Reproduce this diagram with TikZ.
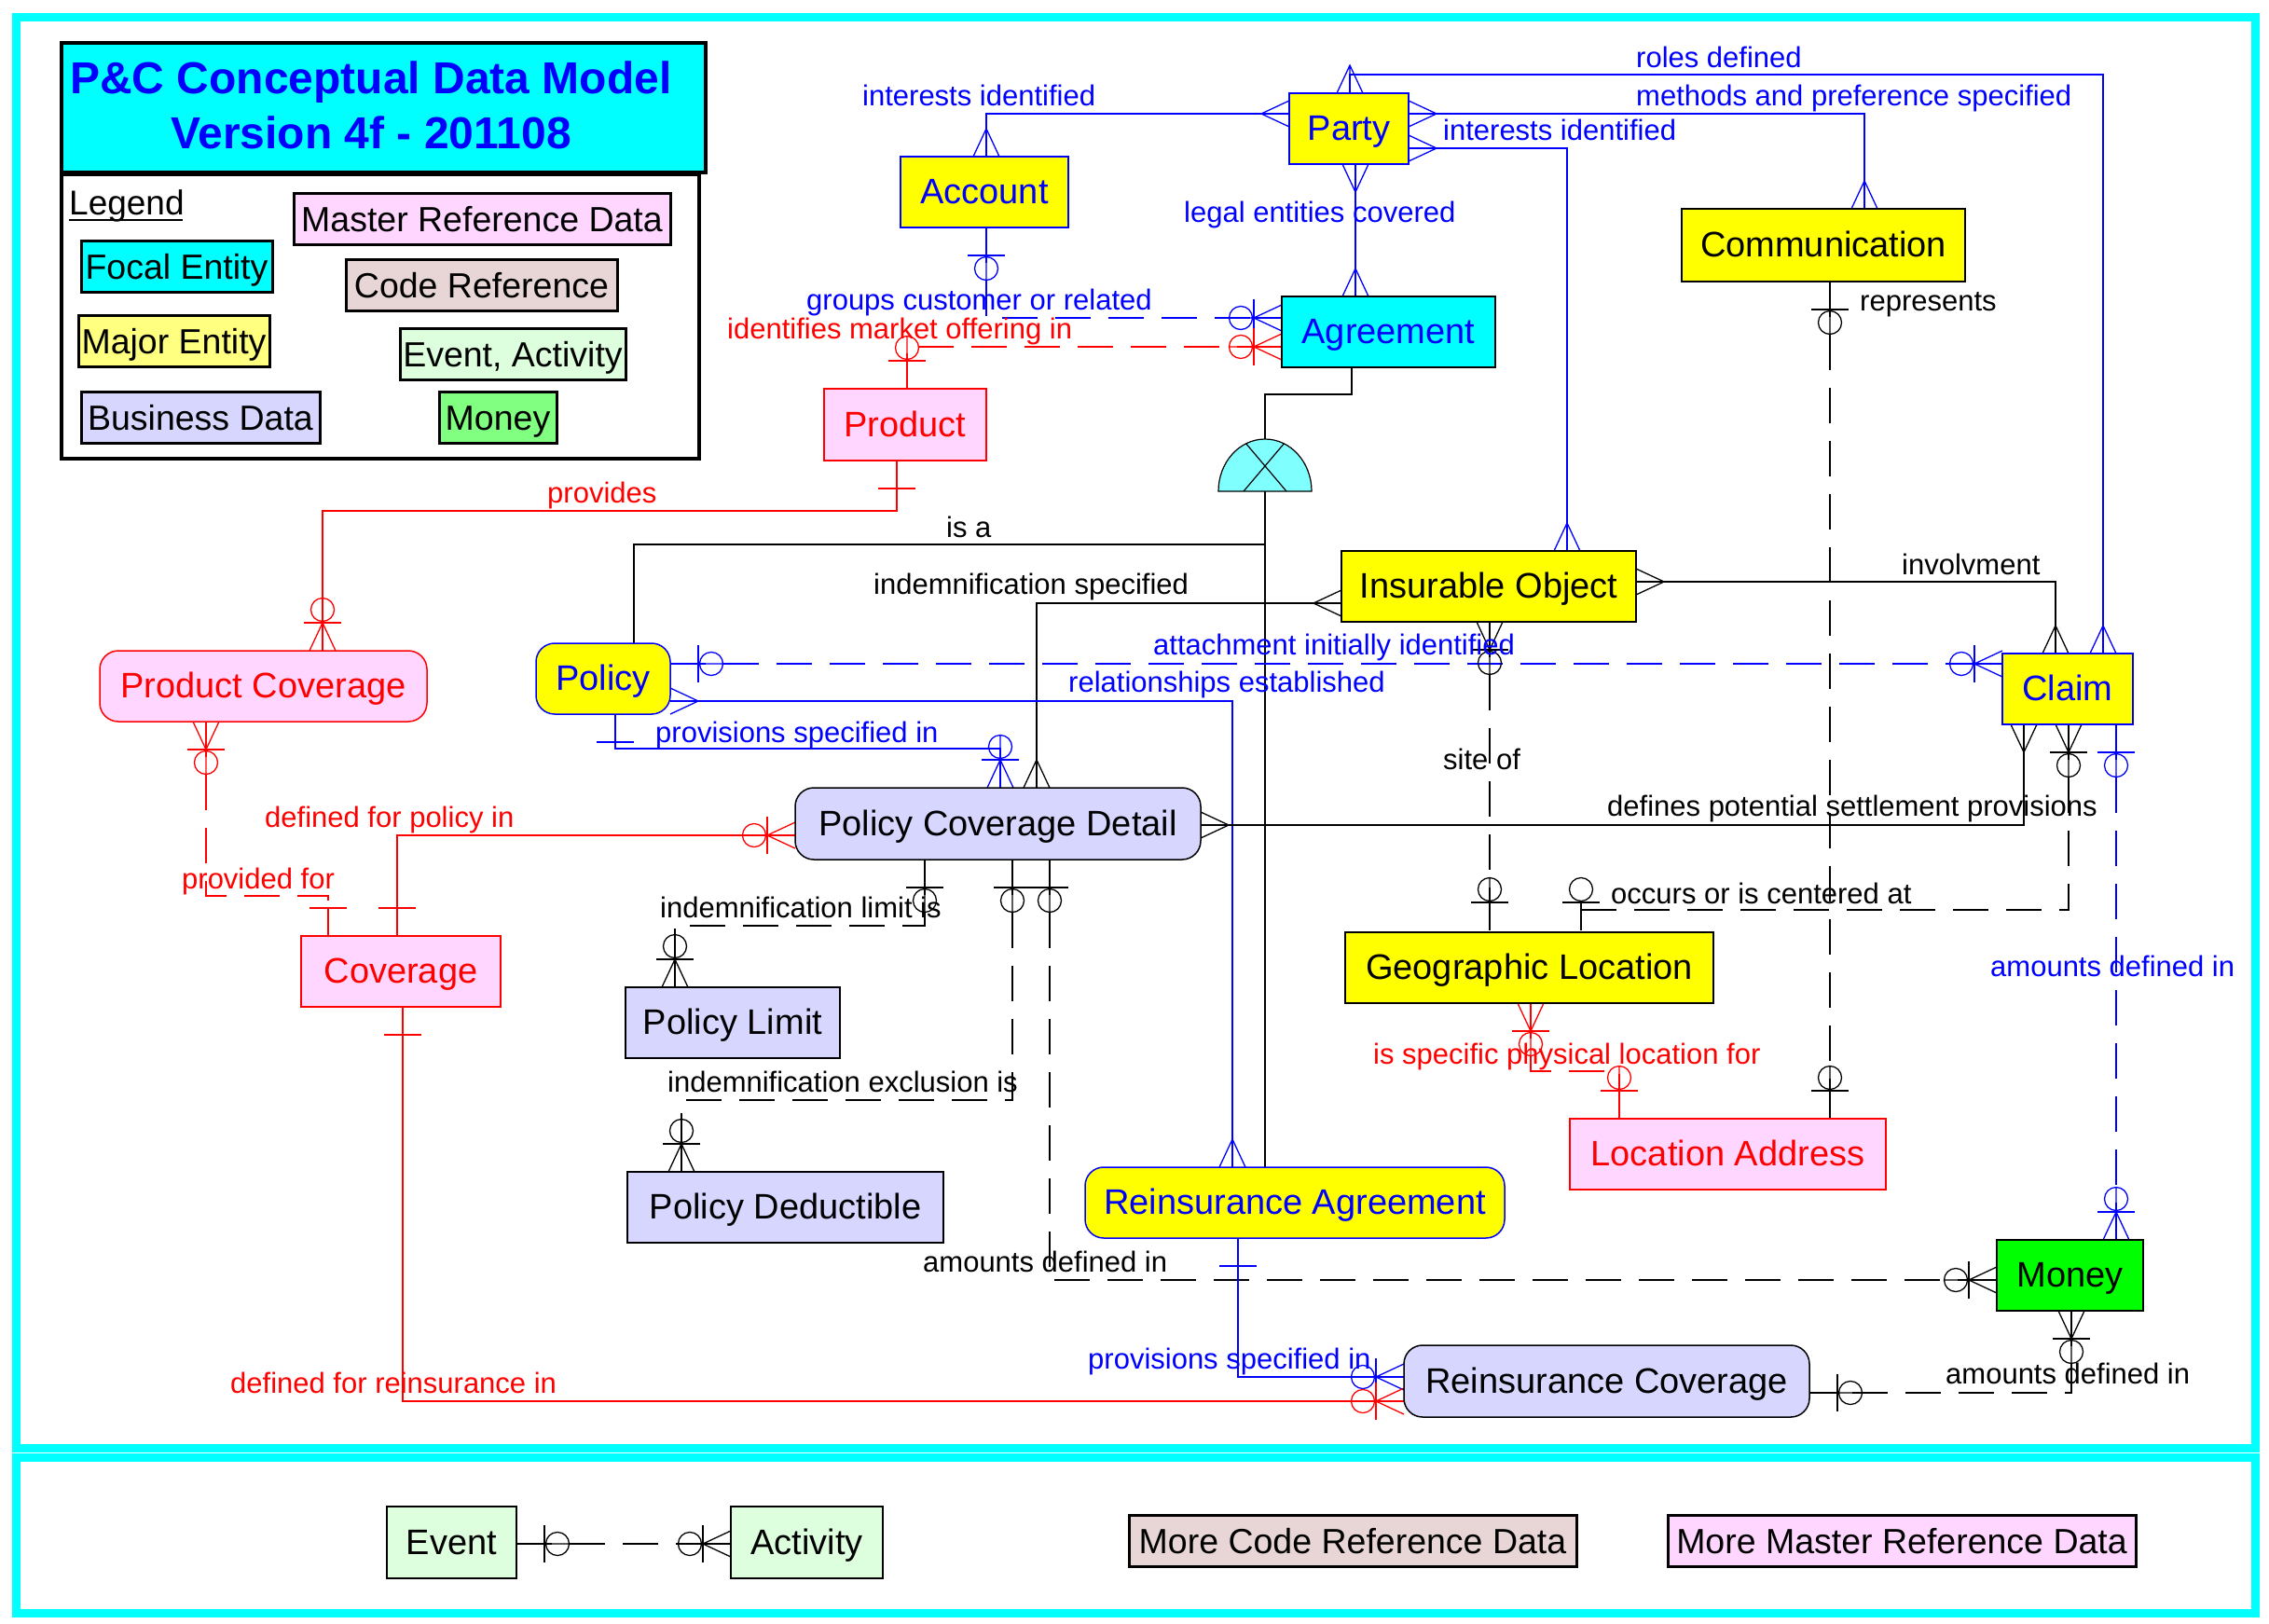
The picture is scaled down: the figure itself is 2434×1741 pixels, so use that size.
\documentclass[tikz,border=0pt]{standalone}
\usepackage{fontspec}
\setmainfont{Liberation Sans}
\definecolor{eb}{RGB}{0,0,255}
\definecolor{er}{RGB}{255,0,0}
\definecolor{fcyan}{RGB}{0,255,255}
\definecolor{fyel}{RGB}{255,255,0}
\definecolor{fpink}{RGB}{255,214,255}
\definecolor{flav}{RGB}{214,214,255}
\definecolor{fcode}{RGB}{232,214,214}
\definecolor{fevt}{RGB}{221,255,221}
\definecolor{flyel}{RGB}{255,255,128}
\definecolor{flgrn}{RGB}{128,255,128}
\definecolor{fgrn}{RGB}{0,255,0}
\definecolor{fsub}{RGB}{128,255,255}
\tikzset{
 ent/.style={draw, line width=1.5pt, inner sep=0pt, text height=28pt, text depth=3pt, font=\fontsize{38}{44}\selectfont},
 rnd/.style={rounded corners=20pt},
 legbox/.style={draw, line width=3pt, inner sep=0pt, text height=30pt, text depth=2pt, font=\fontsize{37.5}{44}\selectfont},
 lab/.style={inner sep=0pt, anchor=base west, font=\fontsize{31}{36}\selectfont},
 conn/.style={line width=1.3pt},
 dsh/.style={dash pattern=on 38pt off 19pt},
 framebox/.style={draw=fcyan, line width=9pt},
}
\newcommand{\mC}[4]{\begin{scope}[shift={(#1,#2)},rotate=#3]\draw[#4,conn] (0,14)--(30,0)--(0,-14) (0,0)--(30,0);\end{scope}}
\newcommand{\mB}[4]{\begin{scope}[shift={(#1,#2)},rotate=#3]\draw[#4,conn] (30,-20)--(30,20) (0,0)--(30,0);\end{scope}}
\newcommand{\mO}[4]{\begin{scope}[shift={(#1,#2)},rotate=#3]\draw[#4,conn] (44,0) circle[radius=12.5] (30,0)--(57,0);\end{scope}}
\newcommand{\mOc}[4]{\begin{scope}[shift={(#1,#2)},rotate=#3]\draw[#4,conn] (44,0) circle[radius=12.5];\end{scope}}
\begin{document}
\begin{tikzpicture}[x=1pt,y=-1pt]
\useasboundingbox (0,0) rectangle (2434,1741);
% frames
\draw[framebox] (17,18) rectangle (2419,1553);
\draw[framebox] (17,1563) rectangle (2419,1730);
% title and legend
\node[draw, line width=4pt, fill=fcyan, minimum width=691, minimum height=139, inner sep=0pt] (title) at (411.5,115.5) {};
\node[inner sep=0pt, anchor=base, text=eb, font=\bfseries\fontsize{48}{56}\selectfont] (t1) at (398,100) {P\&C Conceptual Data Model};
\node[inner sep=0pt, anchor=base, text=eb, font=\bfseries\fontsize{48}{56}\selectfont] (t2) at (398,159) {Version 4f - 201108};
\node[draw, line width=3.5pt, minimum width=684, minimum height=305, inner sep=0pt] (legend) at (408,339.5) {};
\node[inner sep=0pt, anchor=base west, font=\fontsize{37}{44}\selectfont] (legt) at (74,230) {Legend};
\draw[line width=1.5pt] (74,236) -- (196,236);
\node[legbox, fill=fpink, minimum width=404, minimum height=55] (lg1) at (517,234.5) {Master Reference Data};
\node[legbox, fill=fcyan, minimum width=205, minimum height=55] (lg2) at (189.5,285.5) {Focal Entity};
\node[legbox, fill=fcode, minimum width=291, minimum height=55] (lg3) at (516.5,305.5) {Code Reference};
\node[legbox, fill=flyel, minimum width=205, minimum height=55] (lg4) at (186.5,365.5) {Major Entity};
\node[legbox, fill=fevt, minimum width=242, minimum height=55] (lg5) at (550,379.5) {Event, Activity};
\node[legbox, fill=flav, minimum width=256, minimum height=55] (lg6) at (215,447.5) {Business Data};
\node[legbox, fill=flgrn, minimum width=126, minimum height=55] (lg7) at (534,447.5) {Money};

% ---------------- connectors ----------------
% interests identified (Account-Party)
\draw[eb,conn] (1058,168)--(1058,122)--(1383,122);
\mC{1058}{168}{90}{eb}\mC{1383}{122}{180}{eb}
% roles defined
\draw[eb,conn] (1448,100)--(1448,80)--(2256,80)--(2256,701);
\mC{1448}{100}{90}{eb}\mC{2256}{701}{90}{eb}
% methods and preference specified
\draw[eb,conn] (1511,122)--(2000,122)--(2000,224);
\mC{1511}{122}{0}{eb}\mC{2000}{224}{90}{eb}
% interests identified (Party-Insurable Object)
\draw[eb,conn] (1511,159)--(1681,159)--(1681,591);
\mC{1511}{159}{0}{eb}\mC{1681}{591}{90}{eb}
% legal entities covered
\draw[eb,conn] (1454,176)--(1454,318);
\mC{1454}{176}{-90}{eb}\mC{1454}{318}{90}{eb}
% groups customer or related
\draw[eb,conn,dsh] (1058,244)--(1058,341)--(1375,341);
\mB{1058}{244}{-90}{eb}\mO{1058}{244}{-90}{eb}
\mC{1375}{341}{180}{eb}\mB{1375}{341}{180}{eb}\mO{1375}{341}{180}{eb}
% identifies market offering in
\draw[er,conn,dsh] (973,417)--(973,372)--(1375,372);
\mB{973}{417}{90}{er}\mO{973}{417}{90}{er}
\mC{1375}{372}{180}{er}\mB{1375}{372}{180}{er}\mO{1375}{372}{180}{er}
% subtype
\draw[conn] (1450,394)--(1450,423)--(1357,423)--(1357,471);
\draw[conn] (1357,527)--(1357,1252);
\draw[conn] (680,690)--(680,584)--(1357,584);
\draw[line width=1.2pt, fill=fsub] (1307,527) arc[start angle=180, end angle=360, x radius=50, y radius=56] -- cycle;
\begin{scope}
\clip (1307,527) arc[start angle=180, end angle=360, x radius=50, y radius=56] -- cycle;
\draw[line width=1.2pt] (1334,527)--(1395,455) (1380,527)--(1319,455);
\end{scope}
% provides
\draw[er,conn] (962,494)--(962,548)--(346,548)--(346,698);
\mB{962}{494}{-90}{er}
\mC{346}{698}{90}{er}\mB{346}{698}{90}{er}\mO{346}{698}{90}{er}
% indemnification specified
\draw[conn] (1439,647)--(1112,647)--(1112,845);
\mC{1439}{647}{180}{black}\mC{1112}{845}{90}{black}
% attachment initially identified
\draw[eb,conn,dsh] (719,712)--(2148,712);
\mB{719}{712}{0}{eb}\mO{719}{712}{0}{eb}
\mC{2148}{712}{180}{eb}\mB{2148}{712}{180}{eb}\mO{2148}{712}{180}{eb}
% relationships established
\draw[eb,conn] (719,752)--(1322,752)--(1322,1252);
\mC{719}{752}{0}{eb}\mC{1322}{1252}{90}{eb}
% provisions specified in (policy)
\draw[eb,conn] (660,766)--(660,803)--(1073,803)--(1073,845);
\mB{660}{766}{-90}{eb}
\mC{1073}{845}{90}{eb}\mB{1073}{845}{90}{eb}\mO{1073}{845}{90}{eb}
% involvment
\draw[conn] (1755,624)--(2205,624)--(2205,701);
\mC{1755}{624}{0}{black}\mC{2205}{701}{90}{black}
% defines potential settlement provisions
\draw[conn] (1288,885)--(2171,885)--(2171,777);
\mC{1288}{885}{0}{black}\mC{2171}{777}{-90}{black}
% occurs or is centered at
\draw[conn,dsh] (2219,777)--(2219,976)--(1696,976)--(1696,998);
\mC{2219}{777}{-90}{black}\mB{2219}{777}{-90}{black}\mO{2219}{777}{-90}{black}
\mB{1696}{998}{90}{black}\mOc{1696}{998}{90}{black}
% amounts defined in (Claim-Money)
\draw[eb,conn,dsh] (2270,777)--(2270,1330);
\mB{2270}{777}{-90}{eb}\mO{2270}{777}{-90}{eb}
\mC{2270}{1330}{90}{eb}\mB{2270}{1330}{90}{eb}\mO{2270}{1330}{90}{eb}
% site of
\draw[conn,dsh] (1598,667)--(1598,998);
\mC{1598}{667}{-90}{black}\mB{1598}{667}{-90}{black}\mO{1598}{667}{-90}{black}
\mB{1598}{998}{90}{black}\mO{1598}{998}{90}{black}
% represents
\draw[conn,dsh] (1963,302)--(1963,1200);
\mB{1963}{302}{-90}{black}\mO{1963}{302}{-90}{black}
\mB{1963}{1200}{90}{black}\mO{1963}{1200}{90}{black}
% is specific physical location for
\draw[er,conn,dsh] (1642,1076)--(1642,1149)--(1737,1149)--(1737,1200);
\mC{1642}{1076}{-90}{er}\mB{1642}{1076}{-90}{er}\mO{1642}{1076}{-90}{er}
\mB{1737}{1200}{90}{er}\mO{1737}{1200}{90}{er}
% defined for policy in
\draw[er,conn] (426,1004)--(426,896)--(853,896);
\mB{426}{1004}{90}{er}
\mC{853}{896}{180}{er}\mB{853}{896}{180}{er}\mO{853}{896}{180}{er}
% provided for
\draw[er,conn,dsh] (221,774)--(221,961)--(352,961)--(352,1004);
\mC{221}{774}{-90}{er}\mB{221}{774}{-90}{er}\mO{221}{774}{-90}{er}
\mB{352}{1004}{90}{er}
% indemnification limit is
\draw[conn,dsh] (992,922)--(992,993)--(724,993)--(724,1059);
\mB{992}{922}{-90}{black}\mO{992}{922}{-90}{black}
\mC{724}{1059}{90}{black}\mB{724}{1059}{90}{black}\mO{724}{1059}{90}{black}
% indemnification exclusion is
\draw[conn,dsh] (1086,922)--(1086,1180)--(731,1180)--(731,1257);
\mB{1086}{922}{-90}{black}\mO{1086}{922}{-90}{black}
\mC{731}{1257}{90}{black}\mB{731}{1257}{90}{black}\mO{731}{1257}{90}{black}
% amounts defined in (PCD-Money)
\draw[conn,dsh] (1126,922)--(1126,1373)--(2142,1373);
\mB{1126}{922}{-90}{black}\mO{1126}{922}{-90}{black}
\mC{2142}{1373}{180}{black}\mB{2142}{1373}{180}{black}\mO{2142}{1373}{180}{black}
% amounts defined in (Money-Reinsurance Coverage)
\draw[conn,dsh] (2222,1406)--(2222,1494)--(1941,1494);
\mC{2222}{1406}{-90}{black}\mB{2222}{1406}{-90}{black}\mO{2222}{1406}{-90}{black}
\mB{1941}{1494}{0}{black}\mO{1941}{1494}{0}{black}
% provisions specified in (RA-RC)
\draw[eb,conn] (1328,1328)--(1328,1477)--(1506,1477);
\mB{1328}{1328}{-90}{eb}
\mC{1506}{1477}{180}{eb}\mB{1506}{1477}{180}{eb}\mO{1506}{1477}{180}{eb}
% defined for reinsurance in
\draw[er,conn] (432,1080)--(432,1503)--(1506,1503);
\mB{432}{1080}{-90}{er}
\mC{1506}{1503}{180}{er}\mB{1506}{1503}{180}{er}\mO{1506}{1503}{180}{er}
% Event-Activity
\draw[conn,dsh] (554,1656)--(784,1656);
\mB{554}{1656}{0}{black}\mO{554}{1656}{0}{black}
\mC{784}{1656}{180}{black}\mB{784}{1656}{180}{black}\mO{784}{1656}{180}{black}

% ---------------- entities ----------------
\node[ent, fill=fyel, draw=eb, text=eb, minimum width=128, minimum height=76] (party) at (1447,138) {Party};
\node[ent, fill=fyel, draw=eb, text=eb, minimum width=180, minimum height=76] (account) at (1056,206) {Account};
\node[ent, fill=fcyan, text=eb, minimum width=229, minimum height=76] (agreement) at (1489.5,356) {Agreement};
\node[ent, fill=fyel, minimum width=304, minimum height=78] (comm) at (1956,263) {Communication};
\node[ent, fill=fpink, draw=er, text=er, minimum width=174, minimum height=77] (product) at (971,455.5) {Product};
\node[ent, rnd, fill=fpink, draw=er, text=er, minimum width=351, minimum height=76] (pcov) at (282.5,736) {Product Coverage};
\node[ent, rnd, fill=fyel, draw=eb, text=eb, minimum width=144, minimum height=76] (policy) at (647,728) {Policy};
\node[ent, fill=fyel, minimum width=316, minimum height=76] (insobj) at (1597,629) {Insurable Object};
\node[ent, fill=fyel, draw=eb, text=eb, minimum width=140, minimum height=76] (claim) at (2218,739) {Claim};
\node[ent, rnd, fill=flav, minimum width=435, minimum height=77] (pcd) at (1070.5,883.5) {Policy Coverage Detail};
\node[ent, fill=fpink, draw=er, text=er, minimum width=214, minimum height=76] (coverage) at (430,1042) {Coverage};
\node[ent, fill=flav, minimum width=230, minimum height=76] (plimit) at (786,1097) {Policy Limit};
\node[ent, fill=fyel, minimum width=395, minimum height=76] (geo) at (1640.5,1038) {Geographic Location};
\node[ent, fill=fpink, draw=er, text=er, minimum width=339, minimum height=76] (locaddr) at (1853.5,1238) {Location Address};
\node[ent, fill=flav, minimum width=339, minimum height=76] (pded) at (842.5,1295) {Policy Deductible};
\node[ent, rnd, fill=fyel, draw=eb, text=eb, minimum width=450, minimum height=76] (reinsag) at (1389,1290) {Reinsurance Agreement};
\node[ent, fill=fgrn, minimum width=157, minimum height=76] (money) at (2220.5,1368) {Money};
\node[ent, rnd, fill=flav, minimum width=435, minimum height=77] (reinscov) at (1723.5,1481.5) {Reinsurance Coverage};
\node[ent, fill=fevt, minimum width=139, minimum height=77] (event) at (484.5,1654.5) {Event};
\node[ent, fill=fevt, minimum width=163, minimum height=77] (activity) at (865.5,1654.5) {Activity};
\node[legbox, fill=fcode, minimum width=480, minimum height=55] (morecode) at (1451,1652.5) {More Code Reference Data};
\node[legbox, fill=fpink, minimum width=502, minimum height=55] (moremaster) at (2040,1652.5) {More Master Reference Data};

% ---------------- labels ----------------
\node[lab, eb] (l1) at (925,113) {interests identified};
\node[lab, eb] (l2) at (1755,72) {roles defined};
\node[lab, eb] (l3) at (1755,113) {methods and preference specified};
\node[lab, eb] (l4) at (1548,150) {interests identified};
\node[lab, eb] (l5) at (1270,238) {legal entities covered};
\node[lab, eb] (l6) at (865,332) {groups customer or related};
\node[lab, eb] (l7) at (1237,702) {attachment initially identified};
\node[lab, eb] (l8) at (1146,742) {relationships established};
\node[lab, eb] (l9) at (703,796) {provisions specified in};
\node[lab, eb] (l10) at (2135,1047) {amounts defined in};
\node[lab, eb] (l11) at (1167,1468) {provisions specified in};
\node[lab, er] (l12) at (780,363) {identifies market offering in};
\node[lab, er] (l13) at (587,539) {provides};
\node[lab, er] (l14) at (284,887) {defined for policy in};
\node[lab, er] (l15) at (195,953) {provided for};
\node[lab, er] (l16) at (1473,1141) {is specific physical location for};
\node[lab, er] (l17) at (247,1494) {defined for reinsurance in};
\node[lab] (l18) at (1995,333) {represents};
\node[lab] (l19) at (1015,576) {is a};
\node[lab] (l20) at (937,637) {indemnification specified};
\node[lab] (l21) at (2040,616) {involvment};
\node[lab] (l22) at (1548,825) {site of};
\node[lab] (l23) at (1724,875) {defines potential settlement provisions};
\node[lab] (l24) at (1728,969) {occurs or is centered at};
\node[lab] (l25) at (708,984) {indemnification limit is};
\node[lab] (l26) at (716,1171) {indemnification exclusion is};
\node[lab] (l27) at (990,1364) {amounts defined in};
\node[lab] (l28) at (2087,1484) {amounts defined in};
\end{tikzpicture}
\end{document}
